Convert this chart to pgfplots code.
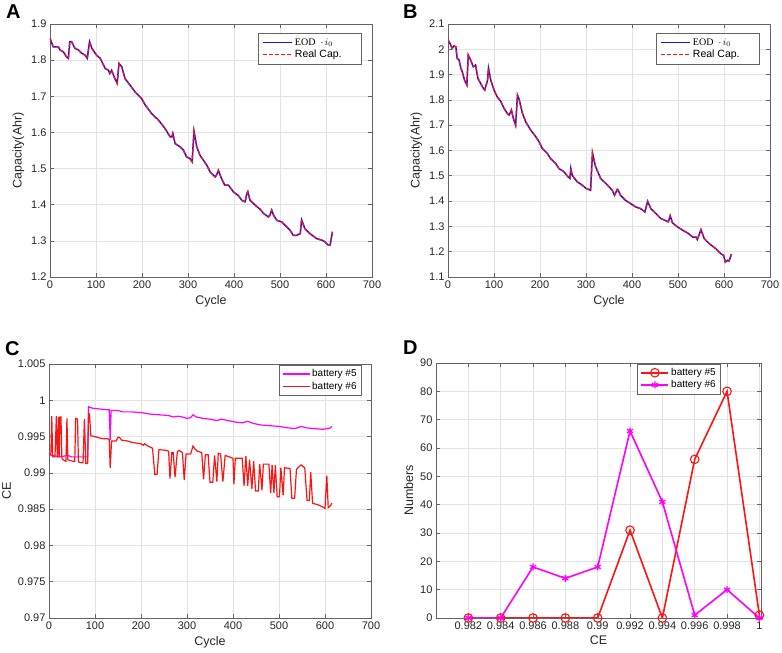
\documentclass[border=0pt]{standalone}
\usepackage{pgfplots}
\usepackage{pgfplotstable}
\pgfplotsset{compat=1.18}
\usepackage{fontspec}
\setmainfont{Liberation Sans}
\newfontfamily\serifleg{Liberation Serif}
\definecolor{axgray}{RGB}{100,100,100}
\definecolor{mblue}{RGB}{20,20,235}
\definecolor{mred}{RGB}{255,20,20}
\definecolor{mmag}{RGB}{255,0,255}
\pgfplotsset{
  mstyle/.style={
    scale only axis,
    axis line style={axgray, line width=0.9pt},
    every tick/.style={axgray, line width=0.7pt},
    major tick length=4pt,
    tick align=inside,
    xtick pos=both, ytick pos=both,
    grid=major,
    major grid style={gray!22, line width=0.6pt},
    /pgf/number format/assume math mode=true,
    tick label style={font=\fontsize{11}{13}\selectfont, text=black!85},
    label style={font=\fontsize{12.5}{14}\selectfont, text=black!85},
    legend style={font=\fontsize{10.5}{12}\selectfont, draw=axgray, line width=0.7pt,
      inner xsep=3pt, inner ysep=2pt, row sep=-0.5pt},
    legend cell align=left,
  },
}
\pgfplotstableread{
x y
0 0.9927
5 0.9924
15 0.9923
25 0.9922
40 0.9924
50 0.9922
70 0.9922
84 0.9922
86 0.9991
95 0.9989
110 0.9988
125 0.9987
131 0.9987
133 0.9945
135 0.9986
150 0.9986
160 0.9984
180 0.9984
200 0.9983
220 0.9981
240 0.9980
260 0.9979
270 0.9977
280 0.9978
290 0.9977
300 0.9975
308 0.9976
313 0.9980
320 0.9977
335 0.9975
350 0.9974
365 0.9972
375 0.9974
390 0.9972
405 0.9970
420 0.9969
432 0.9971
445 0.9968
460 0.9966
480 0.9965
500 0.9964
520 0.9962
535 0.9961
548 0.9964
560 0.9962
575 0.9961
595 0.9960
605 0.9961
612 0.9962
615 0.9964
}\dataCfive
\pgfplotstableread{
x y
0 0.9927
4 0.9925
6 0.9978
8 0.9922
13 0.9922
16 0.9978
18 0.9921
21 0.9977
22 0.9921
24 0.9977
26 0.9977
28 0.9920
33 0.9917
37 0.9916
39 0.9975
41 0.9918
46 0.9917
52 0.9916
56 0.9916
58 0.9975
62 0.9974
64 0.9915
70 0.9914
74 0.9914
77 0.9974
80 0.9913
84 0.9913
86 0.9982
88 0.9981
91 0.9951
100 0.9950
110 0.9948
120 0.9947
128 0.9947
131 0.9946
133 0.9907
136 0.9944
146 0.9944
150 0.9949
153 0.9949
158 0.9945
170 0.9944
180 0.9942
190 0.9941
200 0.9940
205 0.9938
208 0.9940
215 0.9937
225 0.9934
230 0.9898
235 0.9898
239 0.9932
255 0.9931
260 0.9930
263 0.9892
267 0.9928
270 0.9928
274 0.9894
279 0.9929
283 0.9931
290 0.9928
294 0.9890
298 0.9926
308 0.9926
313 0.9937
317 0.9933
322 0.9930
332 0.9928
336 0.9891
340 0.9925
346 0.9925
350 0.9887
356 0.9887
360 0.9924
365 0.9888
368 0.9927
373 0.9926
378 0.9888
383 0.9924
392 0.9922
400 0.9920
402 0.9884
405 0.9920
420 0.9920
424 0.9882
428 0.9923
432 0.9882
436 0.9918
441 0.9878
445 0.9916
449 0.9875
455 0.9875
458 0.9912
463 0.9876
466 0.9912
478 0.9912
482 0.9872
485 0.9911
489 0.9872
492 0.9911
496 0.9867
501 0.9867
504 0.9907
509 0.9869
512 0.9907
524 0.9906
528 0.9865
534 0.9865
538 0.9905
548 0.9911
556 0.9907
561 0.9862
566 0.9862
569 0.9901
573 0.9858
585 0.9856
595 0.9853
600 0.9851
604 0.9896
607 0.9852
612 0.9855
615 0.9858
}\dataCsix
\begin{document}
\begin{tikzpicture}
\useasboundingbox (0pt,0pt) rectangle (782pt,653pt);

% ---------------- Panel A ----------------
\begin{axis}[mstyle, at={(50pt,376pt)}, anchor=south west, width=322pt, height=253pt,
  xmin=0, xmax=700, ymin=1.2, ymax=1.9,
  xtick={0,100,...,700},
  ytick={1.2,1.3,1.4,1.5,1.6,1.7,1.8,1.9},
  yticklabels={1.2,1.3,1.4,1.5,1.6,1.7,1.8,1.9},
  xlabel={Cycle}, ylabel={Capacity(Ahr)},
  legend style={at={(0.969,0.964)}, anchor=north east, inner ysep=3pt, inner xsep=4pt}]
\pgfplotstableread{
x y
0 1.860
7 1.837
18 1.837
22 1.828
29 1.823
36 1.809
40 1.805
43 1.851
47 1.851
54 1.833
62 1.828
69 1.819
76 1.814
81 1.805
86 1.851
91 1.833
101 1.814
109 1.805
120 1.777
127 1.772
130 1.763
134 1.772
141 1.749
146 1.736
150 1.791
156 1.782
163 1.749
174 1.731
185 1.712
199 1.694
207 1.676
221 1.652
236 1.634
250 1.611
261 1.588
265 1.588
267 1.597
272 1.569
283 1.560
290 1.551
297 1.532
304 1.528
309 1.519
313 1.603
319 1.560
326 1.537
341 1.509
348 1.491
359 1.477
362 1.482
366 1.495
373 1.472
380 1.454
388 1.454
399 1.435
409 1.426
417 1.412
424 1.408
428 1.431
430 1.436
435 1.412
446 1.399
457 1.387
464 1.376
475 1.366
478 1.371
482 1.385
486 1.371
493 1.357
504 1.352
515 1.338
522 1.329
529 1.315
536 1.315
544 1.320
547 1.358
554 1.334
565 1.320
580 1.306
591 1.302
598 1.297
605 1.288
609 1.288
614 1.325
}\dataA
\addlegendimage{legend image code/.code={\draw[mblue, line width=1.5pt] (0pt,0pt) -- (29pt,0pt);}}
\addlegendentry{{\serifleg\fontsize{10}{12}\selectfont EOD\ \ $\cdot\, i_0$}}
\addlegendimage{legend image code/.code={\draw[mred, line width=1.4pt, dash pattern=on 3.5pt off 2.5pt] (0pt,0pt) -- (29pt,0pt);}}
\addlegendentry{Real Cap.\rule{14pt}{0pt}}
\addplot[mblue, line width=1.5pt, forget plot] table {\dataA};
\addplot[mred, line width=1.4pt, dash pattern=on 3.5pt off 2.5pt, forget plot] table {\dataA};
\end{axis}

% ---------------- Panel B ----------------
\begin{axis}[mstyle, at={(448pt,376pt)}, anchor=south west, width=322pt, height=253pt,
  xmin=0, xmax=700, ymin=1.1, ymax=2.1,
  xtick={0,100,...,700},
  ytick={1.1,1.2,1.3,1.4,1.5,1.6,1.7,1.8,1.9,2.0,2.1},
  yticklabels={1.1,1.2,1.3,1.4,1.5,1.6,1.7,1.8,1.9,2,2.1},
  xlabel={Cycle}, ylabel={Capacity(Ahr)},
  legend style={at={(0.969,0.964)}, anchor=north east, inner ysep=3pt, inner xsep=4pt}]
\pgfplotstableread{
x y
0 2.037
6 2.017
9 2.004
13 2.013
17 2.010
20 1.964
24 1.958
28 1.925
31 1.911
36 1.878
41 1.859
44 1.977
49 1.958
55 1.931
60 1.938
65 1.885
71 1.865
77 1.845
80 1.839
86 1.878
88 1.925
93 1.878
100 1.839
107 1.812
115 1.793
122 1.766
129 1.746
133 1.740
138 1.760
142 1.727
147 1.700
151 1.819
154 1.806
162 1.746
169 1.713
180 1.680
191 1.654
198 1.634
205 1.608
216 1.588
223 1.568
234 1.549
241 1.529
252 1.516
260 1.498
265 1.489
267 1.529
270 1.502
281 1.476
292 1.463
300 1.450
310 1.443
314 1.590
321 1.535
332 1.489
347 1.463
357 1.443
362 1.423
368 1.446
370 1.443
375 1.423
386 1.403
397 1.390
408 1.377
419 1.370
428 1.357
434 1.399
441 1.370
452 1.351
463 1.331
474 1.322
479 1.318
483 1.342
488 1.314
499 1.298
510 1.285
521 1.274
532 1.258
539 1.258
542 1.248
550 1.287
557 1.252
568 1.232
582 1.212
593 1.192
599 1.186
603 1.159
608 1.166
611 1.163
616 1.190
}\dataB
\addlegendimage{legend image code/.code={\draw[mblue, line width=1.5pt] (0pt,0pt) -- (29pt,0pt);}}
\addlegendentry{{\serifleg\fontsize{10}{12}\selectfont EOD\ \ $\cdot\, i_0$}}
\addlegendimage{legend image code/.code={\draw[mred, line width=1.4pt, dash pattern=on 3.5pt off 2.5pt] (0pt,0pt) -- (29pt,0pt);}}
\addlegendentry{Real Cap.\rule{14pt}{0pt}}
\addplot[mblue, line width=1.5pt, forget plot] table {\dataB};
\addplot[mred, line width=1.4pt, dash pattern=on 3.5pt off 2.5pt, forget plot] table {\dataB};
\end{axis}

% ---------------- Panel C ----------------
\begin{axis}[mstyle, at={(49pt,35pt)}, anchor=south west, width=322pt, height=254pt,
  xmin=0, xmax=700, ymin=0.97, ymax=1.005,
  xtick={0,100,...,700},
  ytick={0.97,0.975,0.98,0.985,0.99,0.995,1.0,1.005},
  yticklabels={0.97,0.975,0.98,0.985,0.99,0.995,1,1.005},
  xlabel={Cycle}, ylabel={CE},
  legend style={at={(0.972,0.997)}, anchor=north east, font=\fontsize{10}{12}\selectfont, inner ysep=2.5pt}]
\addlegendimage{legend image code/.code={\draw[draw=mmag, color=mmag, line width=1.3pt] (0pt,0pt) -- (27pt,0pt);}}
\addlegendentry{battery \#5}
\addlegendimage{legend image code/.code={\draw[draw=mred, color=mred, line width=1.3pt] (0pt,0pt) -- (27pt,0pt);}}
\addlegendentry{battery \#6}
\addplot[mmag, line width=1.2pt, forget plot] table {\dataCfive};
\addplot[mred, line width=1.2pt, forget plot] table {\dataCsix};
\end{axis}

% ---------------- Panel D ----------------
\begin{axis}[mstyle, at={(436pt,35pt)}, anchor=south west, width=325pt, height=255pt,
  xmin=0.980, xmax=1.0001, ymin=0, ymax=90,
  xtick={0.982,0.984,0.986,0.988,0.990,0.992,0.994,0.996,0.998,1.000},
  xticklabels={0.982,0.984,0.986,0.988,0.99,0.992,0.994,0.996,0.998,1},
  ytick={0,10,...,90},
  xlabel={CE}, ylabel={Numbers},
  legend style={at={(0.877,0.998)}, anchor=north east, font=\fontsize{10}{12}\selectfont, inner ysep=2.5pt}]
\addlegendimage{legend image code/.code={\draw[mred, line width=1.6pt] (0pt,0pt) -- (27pt,0pt); \draw[mred, line width=1.1pt] (13.5pt,0pt) circle (4.3pt);}}
\addlegendentry{battery \#5}
\addlegendimage{legend image code/.code={\draw[mmag, line width=1.6pt] (0pt,0pt) -- (27pt,0pt); \draw[mmag, line width=1.3pt] plot[only marks, mark=asterisk, mark size=3.5pt] coordinates {(13.5pt,0pt)};}}
\addlegendentry{battery \#6}
\addplot[mred, line width=1.6pt, mark=o, mark size=4.3pt, mark options={solid, line width=1.1pt}, forget plot] coordinates {
(0.982,0) (0.984,0) (0.986,0) (0.988,0) (0.990,0) (0.992,31) (0.994,0) (0.996,56) (0.998,80) (1.000,1)
};
\addplot[mmag, line width=1.6pt, mark=asterisk, mark size=3.5pt, mark options={solid, line width=1.3pt}, forget plot] coordinates {
(0.982,0) (0.984,0) (0.986,18) (0.988,14) (0.990,18) (0.992,66) (0.994,41) (0.996,1) (0.998,10) (1.000,0)
};
\end{axis}

% panel letters
\node[anchor=north west, inner sep=0pt, font=\fontsize{20}{22}\selectfont\bfseries] at (6pt,648pt) {A};
\node[anchor=north west, inner sep=0pt, font=\fontsize{20}{22}\selectfont\bfseries] at (403pt,648pt) {B};
\node[anchor=north west, inner sep=0pt, font=\fontsize{20}{22}\selectfont\bfseries] at (5pt,312pt) {C};
\node[anchor=north west, inner sep=0pt, font=\fontsize{20}{22}\selectfont\bfseries] at (403pt,312pt) {D};
\end{tikzpicture}
\end{document}
